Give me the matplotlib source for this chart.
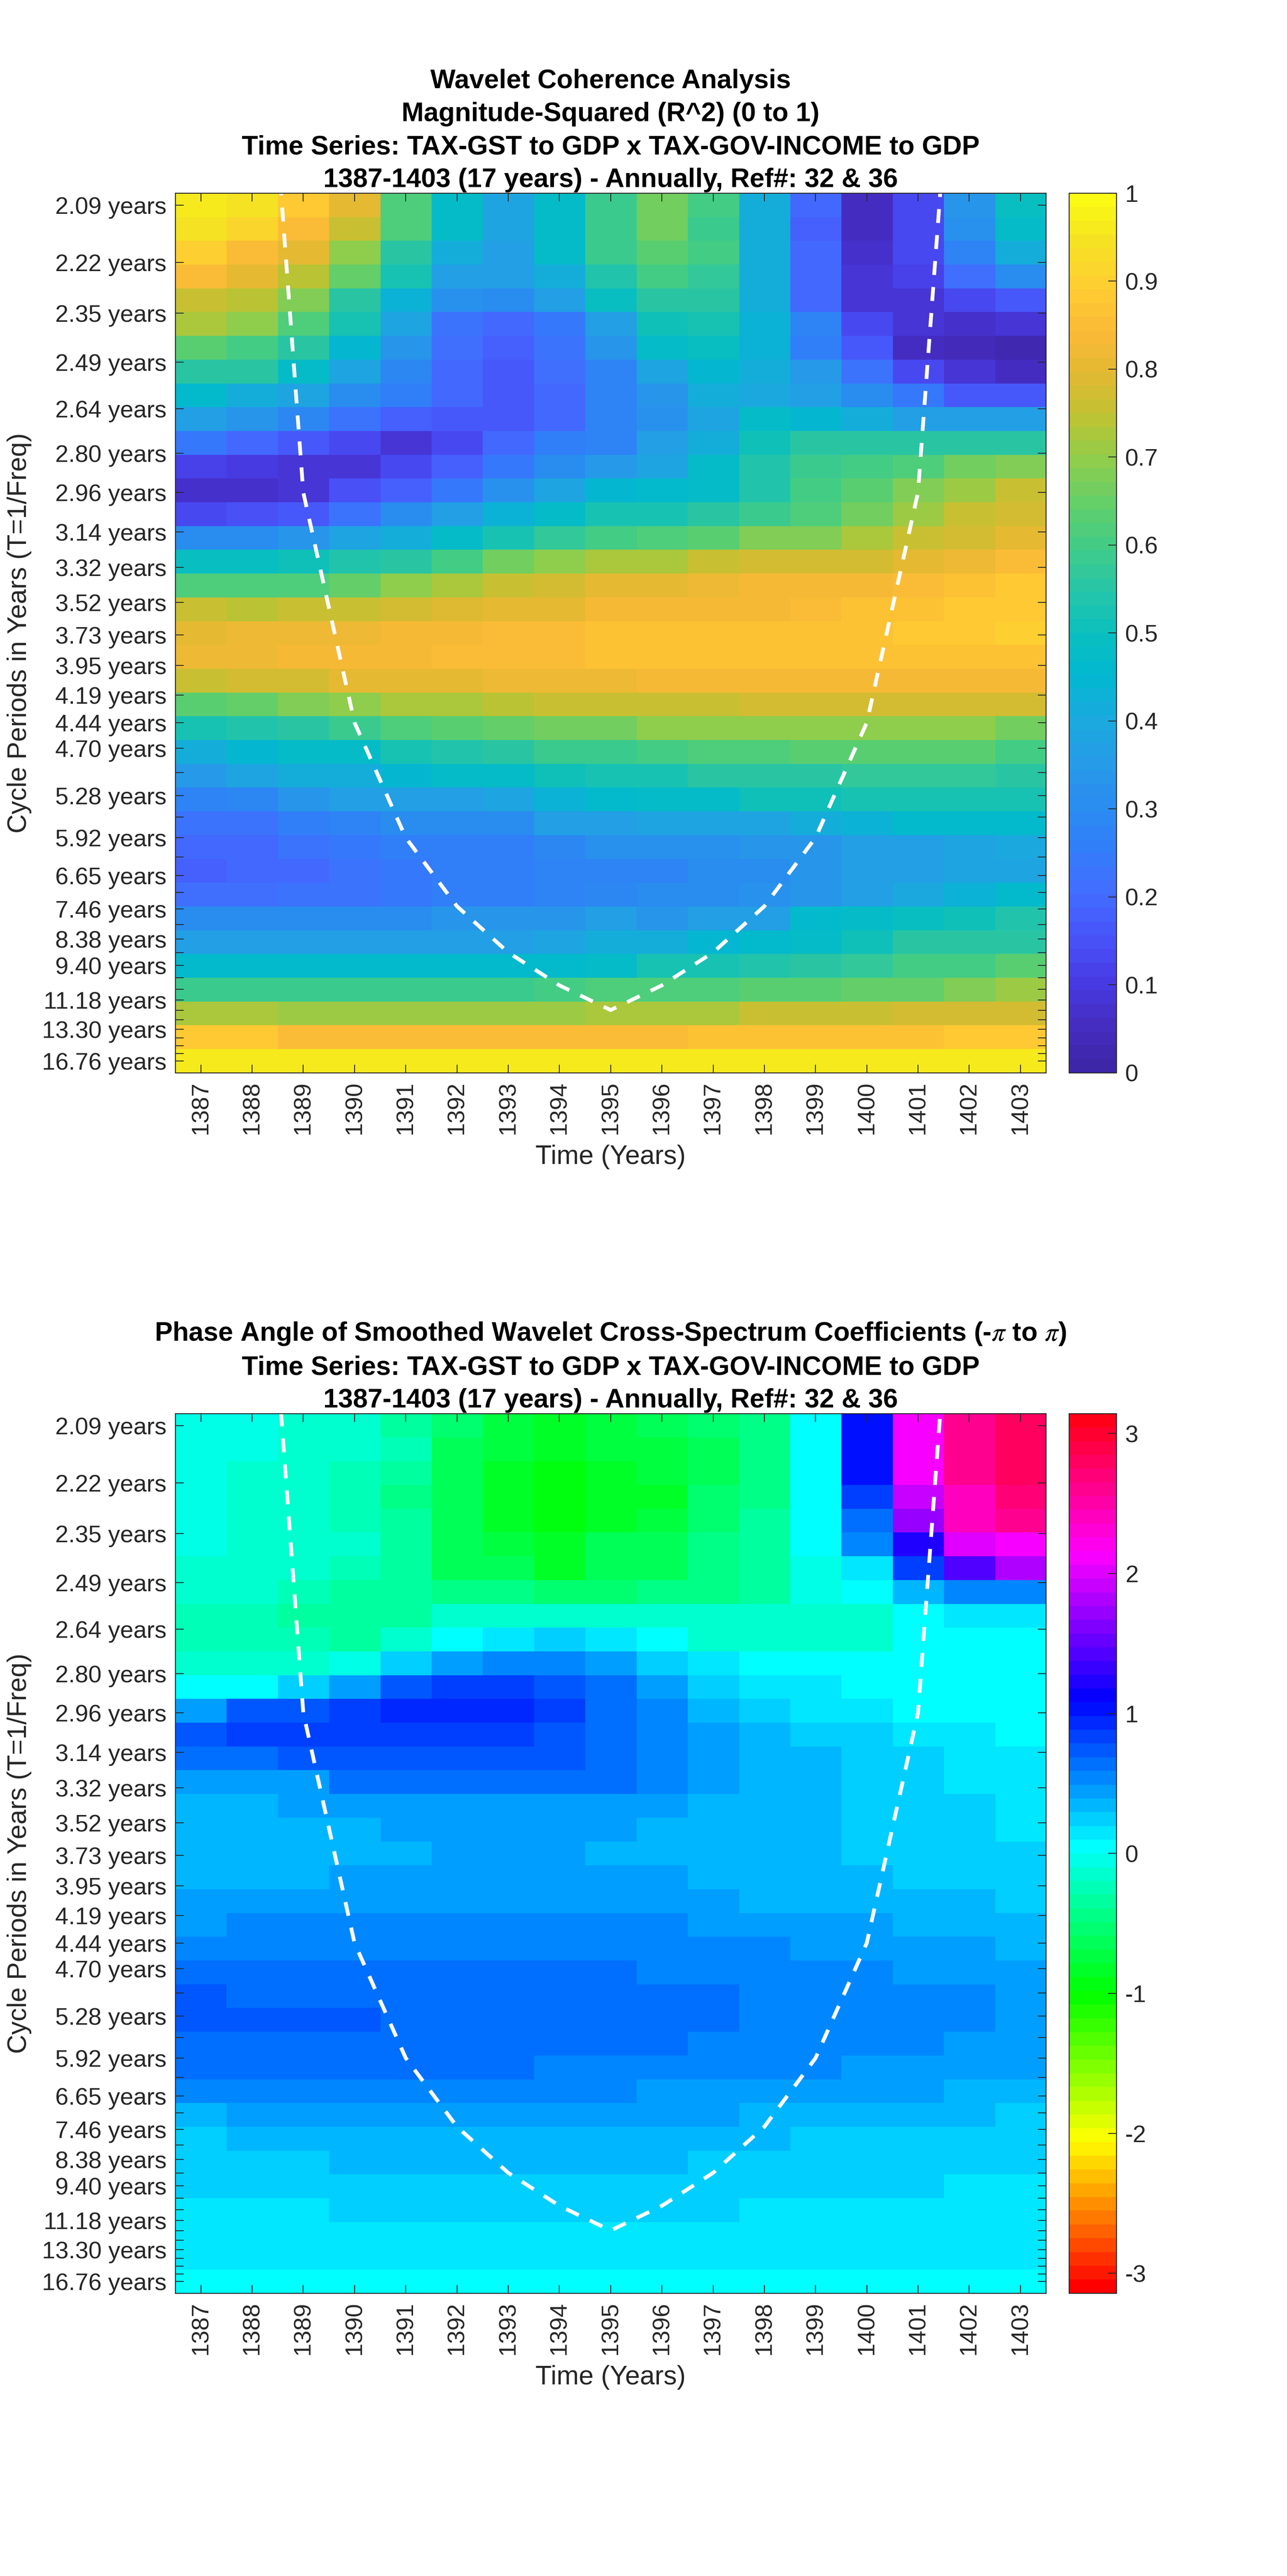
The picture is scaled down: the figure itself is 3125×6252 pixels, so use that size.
#!/usr/bin/env python3

import colorsys
import numpy as np
import matplotlib
matplotlib.use('Agg')
import matplotlib.pyplot as plt
from matplotlib.colors import LinearSegmentedColormap, ListedColormap

plt.rcParams['font.family'] = ['Liberation Sans', 'DejaVu Sans']
plt.rcParams['mathtext.fontset'] = 'stix'

years = list(range(1387, 1404))

periods = [2.09, 2.22, 2.35, 2.49, 2.64, 2.80, 2.96, 3.14, 3.32, 3.52, 3.73, 3.95, 4.19,
           4.44, 4.70, 4.98, 5.28, 5.59, 5.92, 6.27, 6.65, 7.04, 7.46, 7.91, 8.38, 8.88,
           9.40, 9.96, 10.55, 11.18, 11.85, 12.55, 13.30, 14.09, 14.93, 15.82, 16.76]
unlabelled = [4.98, 5.59, 6.27, 7.04, 7.91, 8.88, 9.96, 10.55, 11.85, 12.55, 14.09, 14.93, 15.82]

# cone of influence, period in years
coi_years = list(range(1388, 1403))
coi_periods = [1.48, 2.96, 4.44, 5.92, 7.39, 8.87, 10.35, 11.83,
               10.35, 8.87, 7.39, 5.92, 4.44, 2.96, 1.48]

# rows run from 2.09 years down to 16.76 years
coherence = [
    [.96, .94, .88, .80, .62, .47, .39, .48, .58, .67, .60, .41, .19, .06, .14, .33, .49],
    [.94, .91, .85, .76, .61, .47, .38, .48, .58, .66, .59, .42, .18, .06, .13, .32, .47],
    [.90, .85, .80, .70, .56, .42, .37, .47, .59, .64, .60, .42, .19, .07, .14, .28, .41],
    [.85, .80, .74, .65, .52, .36, .36, .42, .54, .60, .57, .41, .19, .08, .12, .21, .31],
    [.76, .74, .68, .56, .43, .32, .30, .37, .49, .56, .55, .41, .19, .08, .09, .14, .17],
    [.72, .70, .62, .52, .38, .22, .19, .24, .37, .51, .52, .43, .27, .13, .08, .07, .09],
    [.63, .60, .55, .45, .33, .21, .18, .23, .34, .47, .49, .43, .26, .17, .06, .04, .03],
    [.56, .55, .47, .38, .29, .19, .17, .21, .28, .38, .44, .42, .35, .22, .14, .08, .06],
    [.46, .42, .38, .31, .25, .19, .17, .19, .27, .34, .41, .40, .37, .30, .24, .17, .16],
    [.36, .33, .29, .23, .18, .16, .17, .20, .27, .32, .39, .47, .45, .41, .37, .36, .36],
    [.24, .19, .17, .13, .09, .14, .19, .25, .28, .36, .41, .50, .55, .55, .55, .55, .55],
    [.11, .10, .08, .08, .13, .18, .24, .31, .35, .38, .47, .54, .58, .60, .61, .66, .68],
    [.07, .07, .09, .15, .18, .24, .32, .39, .44, .46, .48, .54, .60, .64, .68, .71, .75],
    [.13, .15, .17, .22, .31, .36, .43, .48, .53, .53, .56, .58, .62, .66, .71, .75, .78],
    [.30, .30, .33, .38, .42, .48, .53, .57, .60, .61, .64, .68, .68, .72, .76, .78, .80],
    [.49, .49, .50, .54, .55, .60, .66, .70, .72, .73, .75, .77, .77, .78, .80, .82, .85],
    [.61, .61, .62, .65, .70, .73, .75, .77, .80, .81, .82, .83, .83, .84, .85, .87, .89],
    [.76, .74, .75, .76, .78, .79, .80, .81, .83, .84, .84, .84, .85, .86, .87, .89, .89],
    [.80, .82, .82, .82, .83, .84, .85, .85, .86, .86, .86, .87, .87, .87, .88, .88, .90],
    [.82, .82, .84, .84, .84, .85, .85, .85, .86, .86, .86, .86, .87, .87, .87, .87, .87],
    [.75, .77, .78, .80, .80, .80, .82, .82, .82, .83, .84, .84, .84, .84, .84, .83, .83],
    [.63, .65, .68, .70, .72, .72, .74, .75, .75, .76, .76, .78, .78, .78, .78, .78, .78],
    [.53, .54, .56, .59, .62, .63, .65, .66, .67, .69, .69, .69, .70, .70, .70, .70, .66],
    [.41, .44, .47, .47, .52, .54, .56, .58, .59, .60, .61, .61, .63, .63, .63, .63, .60],
    [.35, .38, .41, .41, .44, .47, .48, .50, .52, .53, .55, .56, .56, .57, .57, .57, .55],
    [.27, .29, .33, .36, .37, .37, .38, .43, .46, .47, .47, .50, .50, .52, .52, .52, .52],
    [.22, .23, .25, .28, .30, .31, .31, .36, .37, .39, .39, .39, .42, .43, .46, .46, .46],
    [.19, .20, .23, .24, .26, .26, .26, .29, .32, .32, .32, .33, .33, .36, .37, .38, .40],
    [.18, .20, .20, .23, .24, .25, .25, .27, .27, .28, .30, .31, .33, .36, .36, .38, .38],
    [.21, .21, .22, .22, .24, .25, .26, .27, .29, .31, .31, .32, .34, .36, .40, .43, .46],
    [.30, .30, .30, .30, .31, .33, .33, .34, .37, .34, .36, .37, .46, .47, .49, .51, .54],
    [.36, .36, .36, .36, .36, .37, .37, .39, .41, .41, .45, .46, .48, .51, .55, .55, .56],
    [.46, .46, .46, .46, .46, .46, .46, .46, .48, .52, .53, .54, .56, .57, .60, .60, .63],
    [.58, .59, .59, .59, .59, .59, .59, .60, .61, .62, .62, .63, .63, .65, .65, .68, .71],
    [.73, .73, .71, .71, .71, .71, .71, .71, .73, .73, .73, .75, .75, .75, .77, .77, .78],
    [.88, .88, .85, .85, .85, .85, .85, .85, .85, .85, .87, .87, .87, .87, .87, .88, .88],
    [.96, .96, .96, .96, .96, .96, .96, .96, .96, .96, .96, .96, .96, .96, .96, .96, .96],
]

phase = [
    [-.05, -.05, -.1, -.15, -.3, -.5, -.7, -.8, -.7, -.65, -.55, -.4, .02, 1.05, 2.1, 2.6, 2.8],
    [-.05, -.05, -.1, -.15, -.25, -.6, -.75, -.85, -.75, -.7, -.6, -.4, .02, 1.05, 2.1, 2.6, 2.8],
    [-.05, -.1, -.15, -.2, -.35, -.6, -.8, -.9, -.8, -.75, -.6, -.4, .02, 1.0, 2.1, 2.6, 2.75],
    [-.05, -.1, -.15, -.25, -.4, -.65, -.85, -.9, -.8, -.8, -.55, -.4, 0, .8, 1.95, 2.45, 2.7],
    [-.05, -.1, -.15, -.2, -.35, -.65, -.85, -.9, -.8, -.75, -.5, -.35, 0, .6, 1.7, 2.45, 2.65],
    [-.05, -.1, -.15, -.15, -.3, -.6, -.7, -.85, -.65, -.6, -.45, -.3, 0, .5, 1.25, 2.0, 2.15],
    [-.15, -.15, -.15, -.25, -.35, -.6, -.65, -.8, -.65, -.6, -.45, -.3, -.05, .15, .85, 1.4, 1.8],
    [-.15, -.15, -.25, -.3, -.35, -.4, -.45, -.5, -.5, -.45, -.4, -.3, -.05, .02, .35, .5, .5],
    [-.2, -.25, -.3, -.3, -.35, -.15, -.15, -.15, -.15, -.15, -.15, -.15, -.1, -.1, 0, .1, .1],
    [-.2, -.25, -.25, -.3, -.1, 0, .1, .2, .1, 0, -.1, -.1, -.1, -.1, 0, 0, 0],
    [-.15, -.15, -.15, -.05, .2, .45, .5, .5, .45, .25, .15, 0, 0, 0, 0, 0, 0],
    [0, 0, .2, .4, .7, .85, .85, .75, .6, .45, .25, .15, .1, 0, 0, 0, 0],
    [.4, .7, .75, .85, .95, .95, .95, .8, .65, .55, .35, .25, .1, .1, 0, 0, 0],
    [.75, .8, .8, .85, .85, .85, .85, .75, .65, .55, .4, .35, .25, .25, .1, .1, 0],
    [.65, .65, .7, .7, .75, .75, .75, .7, .65, .55, .4, .35, .3, .25, .2, .1, .1],
    [.45, .45, .45, .6, .6, .6, .6, .6, .6, .5, .4, .35, .3, .25, .25, .1, .1],
    [.35, .35, .45, .45, .45, .45, .45, .45, .45, .45, .35, .35, .35, .25, .25, .2, .1],
    [.3, .3, .3, .3, .4, .4, .4, .4, .4, .35, .3, .3, .3, .25, .25, .2, .1],
    [.3, .3, .3, .3, .3, .4, .4, .4, .3, .3, .3, .3, .3, .2, .2, .2, .2],
    [.3, .3, .3, .4, .4, .4, .4, .4, .4, .4, .3, .3, .3, .3, .2, .2, .2],
    [.4, .4, .4, .4, .4, .4, .4, .4, .4, .4, .4, .3, .3, .3, .3, .3, .2],
    [.4, .5, .5, .5, .5, .5, .5, .5, .5, .5, .4, .4, .4, .4, .3, .3, .3],
    [.5, .5, .5, .5, .5, .5, .5, .5, .5, .5, .5, .5, .4, .4, .4, .4, .3],
    [.6, .6, .6, .6, .6, .6, .6, .6, .6, .5, .5, .5, .5, .5, .4, .4, .4],
    [.7, .6, .6, .6, .6, .6, .6, .6, .6, .6, .6, .5, .5, .5, .5, .5, .4],
    [.7, .7, .7, .7, .6, .6, .6, .6, .6, .6, .6, .5, .5, .5, .5, .5, .4],
    [.6, .6, .6, .6, .6, .6, .6, .6, .6, .6, .5, .5, .5, .5, .5, .4, .4],
    [.6, .6, .6, .6, .6, .6, .6, .5, .5, .5, .5, .5, .5, .4, .4, .4, .4],
    [.5, .5, .5, .5, .5, .5, .5, .5, .5, .4, .4, .4, .4, .4, .4, .3, .3],
    [.3, .4, .4, .4, .4, .4, .4, .4, .4, .4, .4, .3, .3, .3, .3, .3, .2],
    [.2, .3, .3, .3, .3, .3, .3, .3, .3, .3, .3, .3, .2, .2, .2, .2, .2],
    [.2, .2, .2, .3, .3, .3, .3, .3, .3, .3, .2, .2, .2, .2, .2, .2, .2],
    [.2, .2, .2, .2, .2, .2, .2, .2, .2, .2, .2, .2, .2, .2, .2, .1, .1],
    [.1, .1, .1, .2, .2, .2, .2, .2, .2, .2, .2, .1, .1, .1, .1, .1, .1],
    [.1, .1, .1, .1, .1, .1, .1, .1, .1, .1, .1, .1, .1, .1, .1, .1, .1],
    [.1, .1, .1, .1, .1, .1, .1, .1, .1, .1, .1, .1, .1, .1, .1, .1, .1],
    [0, 0, 0, 0, 0, 0, 0, 0, 0, 0, 0, 0, 0, 0, 0, 0, 0],
]

titles_top = ('Wavelet Coherence Analysis\nMagnitude-Squared (R^2) (0 to 1)\n'
              'Time Series: TAX-GST to GDP x TAX-GOV-INCOME to GDP\n'
              '1387-1403 (17 years) - Annually, Ref#: 32 & 36')
titles_bottom = (r'Phase Angle of Smoothed Wavelet Cross-Spectrum Coefficients (-$\pi$ to $\pi$)' '\n'
                 'Time Series: TAX-GST to GDP x TAX-GOV-INCOME to GDP\n'
                 '1387-1403 (17 years) - Annually, Ref#: 32 & 36')

W, H = 3125, 6252
DPI = 300
DARK = '#262626'

# colormaps, 64 levels like MATLAB; parula anchors
parula_rgb = [(62, 38, 168), (70, 45, 195), (72, 60, 230), (72, 85, 250), (66, 110, 255),
              (50, 125, 250), (42, 140, 240), (38, 155, 232), (26, 170, 222), (2, 184, 208),
              (10, 192, 190), (38, 197, 168), (65, 204, 135), (100, 207, 105), (145, 205, 75),
              (190, 195, 50), (225, 185, 50), (250, 185, 55), (255, 205, 50), (245, 225, 35),
              (250, 250, 20)]
parula = LinearSegmentedColormap.from_list('parula', [(r / 255, g / 255, b / 255) for r, g, b in parula_rgb])
parula64 = ListedColormap(parula(np.linspace(0, 1, 64)))
hsv64 = ListedColormap([colorsys.hsv_to_rgb(i / 64, 1, 1) for i in range(64)])

freqs = 1 / np.array(periods)
half = (freqs[0] - freqs[-1]) / 36 / 2
f_top, f_bottom = freqs[0] + half, freqs[-1] - half
ylabels = ['' if p in unlabelled else f'{p:.2f} years' for p in periods]


def px_axes(fig, x0, x1, y0, y1):
    return fig.add_axes([x0 / W, 1 - y1 / H, (x1 - x0) / W, (y1 - y0) / H])


def panel(fig, top, values, cmap, vmin, vmax, cticks, title):
    bottom = top + 2134.6
    ax = px_axes(fig, 425.5, 2540, top, bottom)
    im = ax.imshow(values, cmap=cmap, vmin=vmin, vmax=vmax, aspect='auto', origin='upper',
                   interpolation='nearest', extent=[1386.5, 1403.5, f_bottom, f_top])
    ax.plot(coi_years, 1 / np.array(coi_periods), color='white', lw=2.2, ls=(0, (3.7, 3.2)),
            dash_capstyle='butt')
    ax.set_xlim(1386.5, 1403.5)
    ax.set_ylim(f_bottom, f_top)
    ax.set_xticks(years)
    ax.set_xticklabels([str(y) for y in years], rotation=90)
    ax.set_yticks(freqs)
    ax.set_yticklabels(ylabels)
    ax.tick_params(direction='in', length=4.8, width=0.5, color=DARK, labelcolor=DARK,
                   labelsize=13.9, top=True, right=True, pad=5)
    for s in ax.spines.values():
        s.set_linewidth(0.55)
        s.set_color(DARK)
    ax.set_xlabel('Time (Years)', fontsize=15.5, color=DARK, labelpad=6)
    ax.set_ylabel('Cycle Periods in Years (T=1/Freq)', fontsize=15.5, color=DARK)
    ax.yaxis.set_label_coords(-0.165, 0.5)
    ax.set_title(title, fontsize=15.5, fontweight='bold', color='black', pad=3.5, linespacing=1.43)

    cax = px_axes(fig, 2596, 2711, top, bottom)
    cb = fig.colorbar(im, cax=cax)
    cb.set_ticks(cticks)
    cb.set_ticklabels([f'{t:g}' for t in cticks])
    cb.ax.tick_params(direction='in', length=4.8, width=0.5, color=DARK, labelcolor=DARK,
                      labelsize=13.9, pad=5)
    cb.outline.set_linewidth(0.55)
    cb.outline.set_edgecolor(DARK)


fig = plt.figure(figsize=(W / DPI, H / DPI), dpi=DPI, facecolor='white')
panel(fig, 469, coherence, parula64, 0, 1, [i / 10 for i in range(11)], titles_top)
panel(fig, 3431, phase, hsv64, -np.pi, np.pi, [-3, -2, -1, 0, 1, 2, 3], titles_bottom)
fig.savefig('out.png', dpi=DPI)
